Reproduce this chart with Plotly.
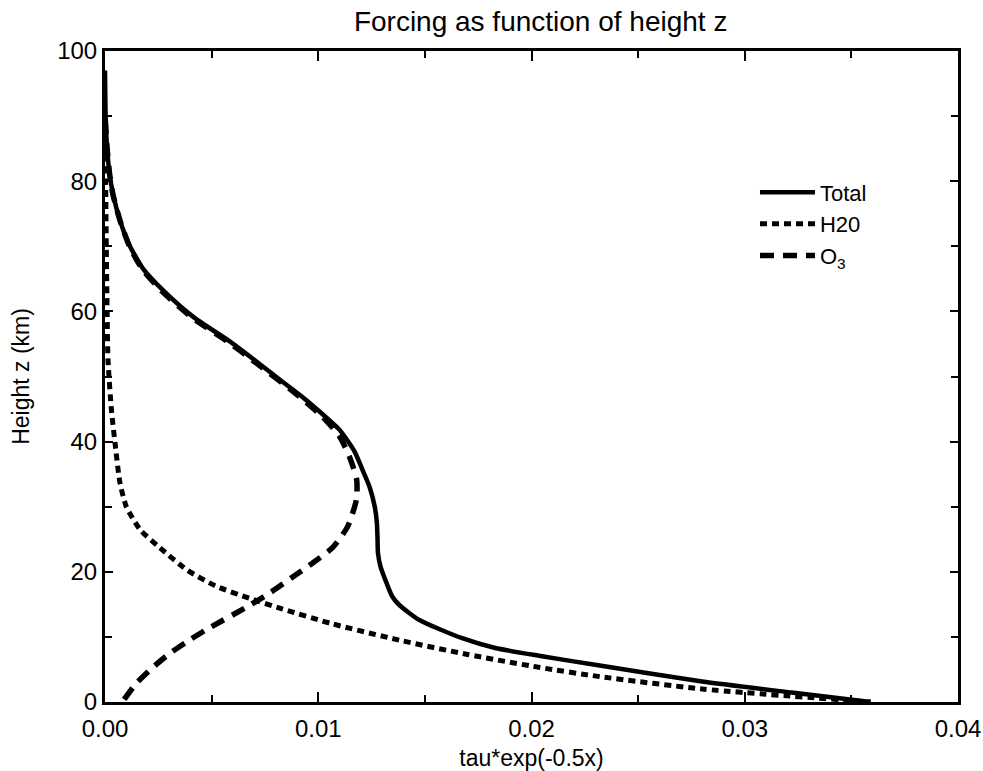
import plotly.graph_objects as go

# ---- data ----
total_z = [97, 90, 85, 81, 78, 74, 70, 66.5, 63, 59, 55.5, 52.3, 49.5, 47,
           44.5, 41.8, 38.5, 35.7, 33.1, 30, 27.5, 25, 22.9, 20.8, 18.3, 16.2, 14.9,
           12.6, 9.8, 8.3, 7.1, 5.6, 3.15, 1.45, 0]
total_x = [0.0, 0.00003, 0.0001, 0.00022, 0.00038, 0.0007, 0.00117, 0.0018, 0.0028,
           0.0042, 0.0058, 0.0071, 0.0082, 0.0092, 0.0101, 0.0110, 0.0117, 0.01207,
           0.0124, 0.01265, 0.01275, 0.01278, 0.0128, 0.01292, 0.0132, 0.01347, 0.0138,
           0.01474, 0.01675, 0.0183, 0.02035, 0.0232, 0.0280, 0.0322, 0.0359]

h2o_z = [86, 80, 70, 60, 52.6, 44.9, 39.8, 33.7, 30, 26.5, 23.7, 20.3, 17.8, 15.9, 14.3,
         12.0, 9.5, 7.3, 5.3, 3.9, 2.0, 0]
h2o_x = [0.0, 0.00003, 0.00006, 0.0001, 0.00014, 0.0003, 0.00047, 0.0007, 0.001, 0.00164,
         0.00257, 0.00384, 0.0052, 0.0068, 0.0083, 0.01067, 0.0138, 0.0170, 0.0204, 0.0232,
         0.028, 0.0359]

o3_z = [0.4, 2.8, 5.2, 7.5, 9.6, 11.4, 14.5, 16.9, 19.2, 21.5, 23.7, 26.9, 31.1, 34.2, 37.7,
        40.8, 43.8, 47.5, 52.3, 55.5, 59, 63, 66.5, 70, 74, 78, 81, 85, 90]
o3_x = [0.0009, 0.00145, 0.0022, 0.00305, 0.0040, 0.0049, 0.0066, 0.0078, 0.0088, 0.0098,
        0.01067, 0.01137, 0.01179, 0.0118, 0.01146, 0.011, 0.0102, 0.0089, 0.0070, 0.0057,
        0.0041, 0.0027, 0.00175, 0.00115, 0.0007, 0.00037, 0.00022, 0.0001, 0.0]

series_names = ["Total", "H20", "O<sub>3</sub>"]

FONT = "Liberation Sans, Arial, Helvetica, sans-serif"

fig = go.Figure()
fig.add_trace(go.Scatter(x=total_x, y=total_z, mode="lines", name=series_names[0],
                         line=dict(color="black", width=4.5, shape="spline", smoothing=0.6)))
fig.add_trace(go.Scatter(x=h2o_x, y=h2o_z, mode="lines", name=series_names[1],
                         line=dict(color="black", width=5, dash="7px,5px", shape="spline", smoothing=0.6)))
fig.add_trace(go.Scatter(x=o3_x, y=o3_z, mode="lines", name=series_names[2],
                         line=dict(color="black", width=5.5, dash="14px,9px", shape="spline", smoothing=0.6)))

axis_common = dict(showline=True, linecolor="black", linewidth=3, mirror="ticks",
                   ticks="inside", tickwidth=2, tickcolor="black",
                   showgrid=False, zeroline=False, automargin=False,
                   tickfont=dict(family=FONT, size=24, color="black"))

fig.update_xaxes(range=[0, 0.04], dtick=0.01, tickformat=".2f", ticklen=10,
                 ticklabelstandoff=3,
                 minor=dict(dtick=0.005, ticks="inside", ticklen=7, tickwidth=2, tickcolor="black"),
                 title=dict(text="tau*exp(-0.5x)", font=dict(family=FONT, size=23, color="black"), standoff=10),
                 **axis_common)
fig.update_yaxes(range=[0, 100], dtick=20, ticklen=8,
                 minor=dict(dtick=10, ticks="inside", ticklen=7, tickwidth=2, tickcolor="black"),
                 title=dict(text="Height z (km)", font=dict(family=FONT, size=23, color="black"), standoff=22),
                 **axis_common)

fig.update_layout(
    width=983, height=771,
    margin=dict(l=105, r=25, t=51, b=69),
    paper_bgcolor="white", plot_bgcolor="white",
    title=dict(text="Forcing as function of height z", x=0.55, xanchor="center",
               y=0.972, yanchor="middle",
               font=dict(family=FONT, size=28, color="black")),
    legend=dict(x=0.762, y=0.815, xanchor="left", yanchor="top",
                bgcolor="rgba(0,0,0,0)", itemwidth=55,
                font=dict(family=FONT, size=22, color="black"),
                tracegroupgap=0),
    showlegend=True,
)

fig.write_html("out.html")
